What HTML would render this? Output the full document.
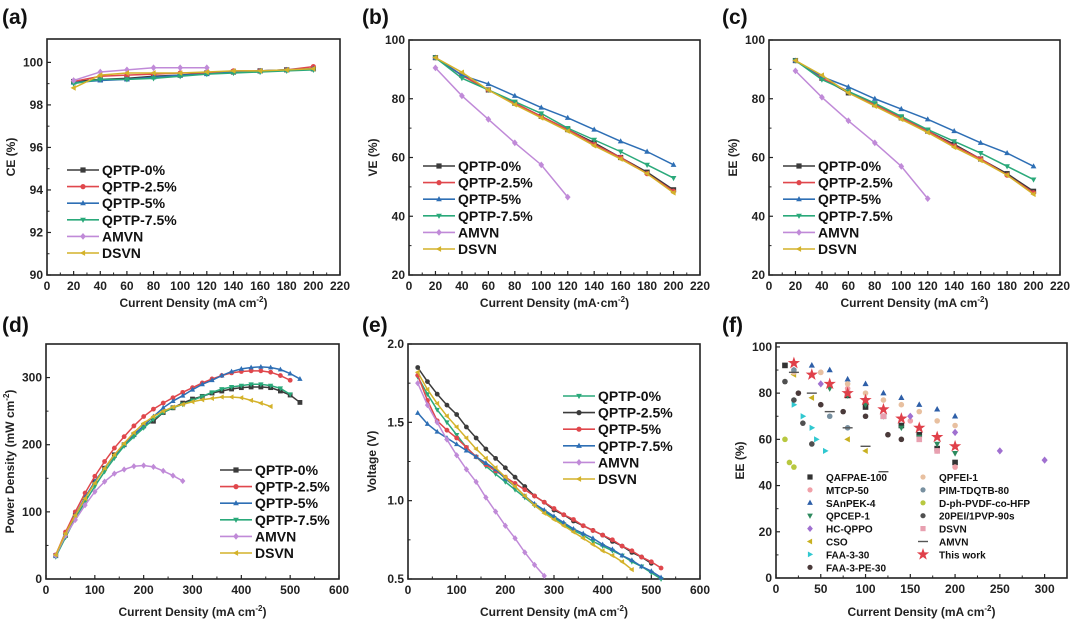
<!DOCTYPE html>
<html><head><meta charset="utf-8">
<style>
body{margin:0;background:#fff;}
svg{display:block;font-family:"Liberation Sans",Arial,sans-serif;font-weight:bold;}
</style></head>
<body>
<svg id="fig" width="1080" height="624" viewBox="0 0 1080 624" xmlns="http://www.w3.org/2000/svg"></svg>
<script>
// ---------- data ----------
const seriesNames = ["QPTP-0%","QPTP-2.5%","QPTP-5%","QPTP-7.5%","AMVN","DSVN"];
const xA = [20,40,60,80,100,120,140,160,180,200];
const xAMVN = [20,40,60,80,100,120];
// (a) CE
const ceQ0 = [99.1,99.2,99.25,99.35,99.4,99.5,99.55,99.6,99.65,99.7];
const ceQ25 = [99.1,99.35,99.4,99.45,99.5,99.5,99.6,99.6,99.65,99.8];
const ceQ5 = [99.05,99.15,99.2,99.3,99.4,99.45,99.55,99.6,99.65,99.7];
const ceQ75 = [99.0,99.2,99.2,99.25,99.35,99.45,99.5,99.55,99.6,99.65];
const ceAMVN = [99.15,99.55,99.65,99.75,99.75,99.75];
const ceDSVN = [98.8,99.4,99.5,99.5,99.5,99.55,99.6,99.6,99.65,99.7];
// (b) VE
const veQ0 = [94,88,83,78.5,74,69.5,65,60,55,49];
const veQ25 = [94,88,83,78.5,74,69.5,64.5,60,54.5,48.5];
const veQ5 = [94,88,85,81,77,73.5,69.5,65.5,62,57.5];
const veQ75 = [94,87,83,79,75,70,66,62,57.5,53];
const veAMVN = [90.5,81,73,65,57.5,46.5];
const veDSVN = [94,89,83,78,73.5,69,64,59.5,54.5,48];
// (c) EE
const eeQ0 = [93,87,82,78,73.5,69,64.5,59.5,54.5,48.5];
const eeQ25 = [93,87,82.5,78,73.5,69,64,59.5,54,48];
const eeQ5 = [93,87.5,84,80,76.5,73,69,65,61.5,57];
const eeQ75 = [93,86.5,82.5,78.5,74,69.5,65.5,61.5,57,52.5];
const eeAMVN = [89.5,80.5,72.5,65,57,46];
const eeDSVN = [93,88,82,77.5,73,68.5,63.5,59,54,47.5];
// (d) power density, x starts at 20 step 20
const pdQ0 = [35,65,95,120,145,165,185,200,215,228,235,248,255,262,268,272,277,280,283,285,286,286,285,280,274,263];
const pdQ25 = [36,70,100,128,153,175,195,212,228,242,253,262,270,278,285,292,298,303,307,309,310,310,308,303,296];
const pdQ5 = [34,66,95,122,145,165,183,200,215,228,242,255,265,273,282,290,296,303,309,313,315,316,315,312,306,298];
const pdQ75 = [33,62,90,115,138,160,180,198,212,225,238,248,255,260,266,272,278,283,286,288,290,290,288,284,275];
const pdAMVN = [35,65,88,110,130,145,157,163,168,169,167,161,154,146];
const pdDSVN = [36,68,95,120,143,165,185,202,218,232,242,250,256,260,264,267,269,271,271,270,266,262,257];
// (e) voltage
const vQ0 = [1.79,1.68,1.58,1.5,1.42,1.34,1.28,1.22,1.17,1.12,1.07,1.02,0.97,0.93,0.89,0.85,0.81,0.78,0.74,0.71,0.68,0.65,0.61,0.58,0.54,0.50];
const vQ25 = [1.85,1.76,1.68,1.61,1.55,1.47,1.40,1.33,1.27,1.21,1.15,1.09,1.03,0.99,0.94,0.91,0.87,0.84,0.81,0.78,0.74,0.71,0.67,0.64,0.60];
const vQ5 = [1.8,1.64,1.51,1.45,1.40,1.34,1.28,1.23,1.19,1.15,1.11,1.07,1.03,0.99,0.95,0.91,0.88,0.84,0.81,0.78,0.75,0.71,0.68,0.64,0.61,0.57];
const vQ75 = [1.56,1.49,1.44,1.40,1.36,1.32,1.28,1.24,1.20,1.14,1.09,1.03,0.98,0.94,0.90,0.86,0.82,0.79,0.76,0.72,0.69,0.65,0.62,0.58,0.55,0.51];
const vAMVN = [1.75,1.61,1.50,1.39,1.29,1.20,1.12,1.02,0.93,0.84,0.76,0.67,0.59,0.52];
const vDSVN = [1.82,1.71,1.62,1.54,1.47,1.40,1.33,1.27,1.21,1.15,1.09,1.03,0.97,0.92,0.88,0.84,0.80,0.76,0.72,0.68,0.65,0.61,0.56];
// (f) literature comparison
const fNames = ["QAFPAE-100","MTCP-50","SAnPEK-4","QPCEP-1","HC-QPPO","CSO","FAA-3-30","FAA-3-PE-30","QPFEI-1","PIM-TDQTB-80","D-ph-PVDF-co-HFP","20PEI/1PVP-90s","DSVN","AMVN","This work"];
const fX = [
 [10,80,100,120,140,160,180,200],
 [50,80,150,180,200],
 [20,40,60,80,100,120,140,160,180,200],
 [60,80,100,120,140,160,180,200],
 [50,150,200,250,300],
 [20,40,80,100],
 [20,30,40,45,55],
 [25,50,75,100,125,140],
 [20,50,80,100,120,140,160,180,200],
 [20,60,80],
 [10,15,20],
 [10,20,30,40],
 [80,120,160,180],
 [20,40,60,80,100,120],
 [20,40,60,80,100,120,140,160,180,200]];
const fY = [
 [92,79,74,70,66,62,56,50],
 [89,82,68,55,48],
 [90,92,90,86,84,80,78,75,73,70],
 [82,79,75,70,65,61,58,54],
 [84,70,63,55,51],
 [88,78,60,55],
 [75,70,65,60,55],
 [80,75,72,70,62,60],
 [89,89,84,80,77,75,72,68,66],
 [90,70,65],
 [60,50,48],
 [85,77,67,58],
 [80,70,60,55],
 [89,80,72,65,57,46],
 [93,88,84,80,77,73,69,65,61,57]];
// ticks
const ticksX220 = [0,20,40,60,80,100,120,140,160,180,200,220];
const ticksYa = [90,92,94,96,98,100];
const ticksY20 = [20,40,60,80,100];
const ticksX600 = [0,100,200,300,400,500,600];
const ticksYd = [0,100,200,300];
const ticksYe = [0.5,1.0,1.5,2.0];
const ticksXf = [0,50,100,150,200,250,300];
const ticksYf = [0,20,40,60,80,100];

// ---------- drawing ----------
const NS = "http://www.w3.org/2000/svg";
const svg = document.getElementById("fig");
function mk(tag, attrs, parent){
  const e = document.createElementNS(NS, tag);
  for (const k in attrs) e.setAttribute(k, attrs[k]);
  (parent||svg).appendChild(e);
  return e;
}
const COL = ["#3b3b3b","#e0474c","#2e6fb5","#2aa97a","#c08ad8","#d4b22a"];
const SHP = ["square","circle","tri","tridown","diamond","left"];
function marker(g, shape, x, y, s, col){
  let e;
  if (shape==="square") e = mk("rect",{x:x-s,y:y-s,width:2*s,height:2*s,fill:col},g);
  else if (shape==="circle") e = mk("circle",{cx:x,cy:y,r:s,fill:col},g);
  else {
    let p;
    if (shape==="tri") p=[[x,y-s*1.2],[x+s*1.1,y+s*0.8],[x-s*1.1,y+s*0.8]];
    else if (shape==="tridown") p=[[x,y+s*1.2],[x+s*1.1,y-s*0.8],[x-s*1.1,y-s*0.8]];
    else if (shape==="diamond") p=[[x,y-s*1.3],[x+s*1.1,y],[x,y+s*1.3],[x-s*1.1,y]];
    else if (shape==="left") p=[[x-s*1.2,y],[x+s*0.8,y-s*1.1],[x+s*0.8,y+s*1.1]];
    else if (shape==="right") p=[[x+s*1.2,y],[x-s*0.8,y-s*1.1],[x-s*0.8,y+s*1.1]];
    else if (shape==="star"){ p=[]; for(let i=0;i<10;i++){const a=-Math.PI/2+i*Math.PI/5;const r=i%2?s*0.75:s*1.9;p.push([x+r*Math.cos(a),y+r*Math.sin(a)]);} }
    e = mk("polygon",{points:p.map(q=>q.join(",")).join(" "),fill:col},g);
  }
  
  
  return e;
}
function axes(name, L, T, R, B, xmin, xmax, ymin, ymax, xt, yt, ytFmt, xTitle, yTitle, label, labX, labY, xTitleY){
  const g = mk("g",{});
  
  
  const sx = v => L + (v-xmin)/(xmax-xmin)*(R-L);
  const sy = v => B - (v-ymin)/(ymax-ymin)*(B-T);
  const fr = mk("rect",{x:L,y:T,width:R-L,height:B-T,fill:"none",stroke:"#222","stroke-width":1.6},g);
   
  xt.forEach((v,i)=>{
    const x = sx(v);
    mk("line",{x1:x,y1:B,x2:x,y2:B-4,stroke:"#222","stroke-width":1.2},g);
    if (i<xt.length-1){ const xm=sx((v+xt[i+1])/2); mk("line",{x1:xm,y1:B,x2:xm,y2:B-2.5,stroke:"#222","stroke-width":1},g); }
    const t = mk("text",{x:x,y:B+15,"text-anchor":"middle","font-size":12,fill:"#222"},g);
    t.textContent = v;
     
  });
  yt.forEach((v,i)=>{
    const y = sy(v);
    mk("line",{x1:L,y1:y,x2:L+4,y2:y,stroke:"#222","stroke-width":1.2},g);
    if (i<yt.length-1){ const ym=sy((v+yt[i+1])/2); mk("line",{x1:L,y1:ym,x2:L+2.5,y2:ym,stroke:"#222","stroke-width":1},g); }
    const t = mk("text",{x:L-4,y:y+4,"text-anchor":"end","font-size":12,fill:"#222"},g);
    t.textContent = ytFmt(v);
     
  });
  const xtl = mk("text",{x:(L+R)/2,y:xTitleY,"text-anchor":"middle","font-size":12,fill:"#222"},g);
  xtl.innerHTML = xTitle;
   
  const yx = L-32, yy=(T+B)/2;
  const ytl = mk("text",{x:yx,y:yy,"text-anchor":"middle","font-size":12,fill:"#222",transform:`rotate(-90 ${yx} ${yy})`},g);
  ytl.innerHTML = yTitle;
   
  const pl = mk("text",{x:labX,y:labY,"font-size":21,fill:"#111"},g);
  pl.textContent = label;
   
  return {g,sx,sy};
}
function line(ax, xs, ys, col, shape, name, ms){
  const g = mk("g",{},ax.g);
  
  
  const pts = ys.map((v,i)=>ax.sx(xs[i])+","+ax.sy(v)).join(" ");
  mk("polyline",{points:pts,fill:"none",stroke:col,"stroke-width":1.5},g);
  ys.forEach((v,i)=>marker(g,shape,ax.sx(xs[i]),ax.sy(v),ms||2.6,col));
}
function legend(ax, x, y, dy, names, cols, shapes){
  const g = mk("g",{},ax.g);
  
  
  names.forEach((n,i)=>{
    const yy = y+i*dy;
    const e = mk("g",{},g);
    
    
    mk("line",{x1:x,y1:yy,x2:x+32,y2:yy,stroke:cols[i],"stroke-width":1.6},e);
    marker(e,shapes[i],x+16,yy,2.6,cols[i]);
    const t = mk("text",{x:x+35,y:yy+5,"font-size":14,fill:"#111"},e);
    t.textContent = n;
  });
}
const xB = Array.from({length:26},(_,i)=>20+20*i);
const cd = 'Current Density (mA cm<tspan dy="-5" font-size="8">-2</tspan><tspan dy="5">)</tspan>';
const cdDot = 'Current Density (mA·cm<tspan dy="-5" font-size="8">-2</tspan><tspan dy="5">)</tspan>';

// (a)
const A = axes("panel-a-ce",47,39,340,275,0,220,90,101.1,ticksX220,ticksYa,v=>v,cd,"CE (%)","(a)",2,24,307);
[[ceQ0,xA],[ceQ25,xA],[ceQ5,xA],[ceQ75,xA],[ceAMVN,xAMVN],[ceDSVN,xA]].forEach((s,i)=>line(A,s[1],s[0],COL[i],SHP[i],"series-"+seriesNames[i]));
legend(A,67,170,16.6,seriesNames,COL,SHP);
// (b)
const Bp = axes("panel-b-ve",409,40,700,275,0,220,20,100,ticksX220,ticksY20,v=>v,cdDot,"VE (%)","(b)",362,24,307);
[[veQ0,xA],[veQ25,xA],[veQ5,xA],[veQ75,xA],[veAMVN,xAMVN],[veDSVN,xA]].forEach((s,i)=>line(Bp,s[1],s[0],COL[i],SHP[i],"series-"+seriesNames[i]));
legend(Bp,423,166,16.6,seriesNames,COL,SHP);
// (c)
const C = axes("panel-c-ee",769,40,1060,275,0,220,20,100,ticksX220,ticksY20,v=>v,cd,"EE (%)","(c)",722,24,307);
[[eeQ0,xA],[eeQ25,xA],[eeQ5,xA],[eeQ75,xA],[eeAMVN,xAMVN],[eeDSVN,xA]].forEach((s,i)=>line(C,s[1],s[0],COL[i],SHP[i],"series-"+seriesNames[i]));
legend(C,783,166,16.6,seriesNames,COL,SHP);
// (d)
const D = axes("panel-d-power",46,344,339,579,0,600,0,350,ticksX600,ticksYd,v=>v,cd,'Power Density (mW cm<tspan dy="-5" font-size="8">-2</tspan><tspan dy="5">)</tspan>',"(d)",2,332,616);
[pdQ0,pdQ25,pdQ5,pdQ75,pdAMVN,pdDSVN].forEach((s,i)=>line(D,xB,s,COL[i],SHP[i],"series-"+seriesNames[i],2.4));
legend(D,220,470,16.6,seriesNames,COL,SHP);
// (e)
const COLE = [COL[3],COL[0],COL[1],COL[2],COL[4],COL[5]];
const SHPE = [SHP[3],SHP[1],SHP[1],SHP[2],SHP[4],SHP[5]];
const E = axes("panel-e-voltage",408,344,700,579,0,600,0.5,2.0,ticksX600,ticksYe,v=>v.toFixed(1),cd,"Voltage (V)","(e)",362,332,616);
[vQ0,vQ25,vQ5,vQ75,vAMVN,vDSVN].forEach((s,i)=>line(E,xB,s,COLE[i],SHPE[i],"series-"+seriesNames[i],2.4));
legend(E,563,396,16.6,seriesNames,COLE,SHPE);
// (f)
const F = axes("panel-f-comparison",776,343,1067,578,0,325,0,101.7,ticksXf,ticksYf,v=>v,cd,"EE (%)","(f)",722,332,616);
const FCOL = ["#333","#f0a0a8","#2e5fa8","#2e8a5e","#a070d0","#c8b020","#30c8d0","#4a3a3a","#e8c0a0","#7890a0","#b8c840","#505050","#e8a0b0","#555","#e0404a"];
const FSHP = ["square","circle","tri","tridown","diamond","left","right","circle","circle","circle","circle","circle","square","dash","star"];
fNames.forEach((n,i)=>{
  const g = mk("g",{},F.g);
  
  
  fY[i].forEach((v,j)=>{
    const x=F.sx(fX[i][j]), y=F.sy(v);
    if (FSHP[i]==="dash"){ const l=mk("line",{x1:x-5,y1:y,x2:x+5,y2:y,stroke:FCOL[i],"stroke-width":1.4},g);   }
    else marker(g,FSHP[i],x,y,FSHP[i]==="star"?3.4:2.8,FCOL[i]);
  });
});
const fl = mk("g",{},F.g);


fNames.forEach((n,i)=>{
  const col = i<8?0:1, row = i<8?i:i-8;
  const mx = col?923:810, yy = 477+row*12.9;
  const e = mk("g",{},fl);
  
  
  if (FSHP[i]==="dash") mk("line",{x1:mx-5,y1:yy,x2:mx+5,y2:yy,stroke:FCOL[i],"stroke-width":1.4},e);
  else marker(e,FSHP[i],mx,yy,FSHP[i]==="star"?3.4:2.6,FCOL[i]);
  const t = mk("text",{x:mx+16,y:yy+4,"font-size":10,fill:"#111"},e);
  t.textContent = n;
});
</script>
</body></html>
